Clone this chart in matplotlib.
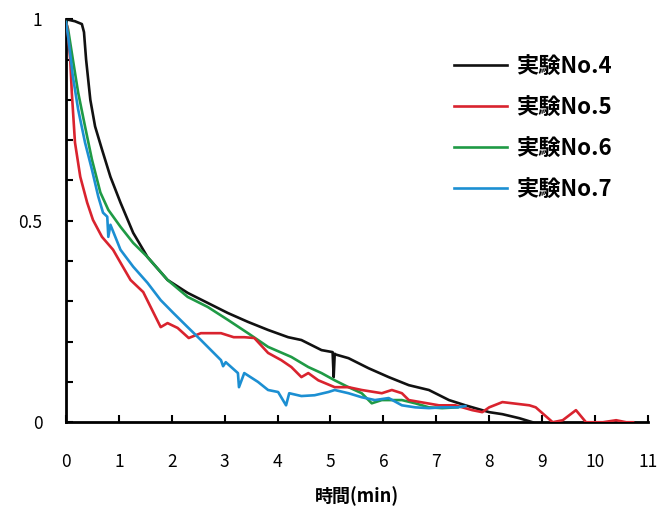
import numpy as np
from matplotlib import pyplot as plt

plt.rcParams['font.family'] = ['Noto Sans CJK JP', 'DejaVu Sans']

# 実験No.4
t4 = [0, 0.17, 0.30, 0.34, 0.38, 0.46, 0.55, 0.68, 0.84, 1.03, 1.27, 1.54, 1.92, 2.30, 2.68,
      3.06, 3.44, 3.82, 4.20, 4.45, 4.83, 5.04, 5.06, 5.08, 5.10, 5.34, 5.72, 6.10, 6.48, 6.86,
      7.24, 7.55, 8.0, 8.25, 8.57, 8.82]
r4 = [1.0, 0.995, 0.988, 0.968, 0.90, 0.80, 0.734, 0.677, 0.609, 0.545, 0.47, 0.41, 0.353, 0.321, 0.296,
      0.271, 0.249, 0.229, 0.211, 0.204, 0.179, 0.174, 0.112, 0.17, 0.168, 0.159, 0.134, 0.112, 0.092, 0.080,
      0.055, 0.042, 0.025, 0.02, 0.01, 0.0]

# 実験No.5
t5 = [0, 0.02, 0.04, 0.08, 0.11, 0.17, 0.27, 0.40, 0.51, 0.68, 0.89, 1.03, 1.22, 1.46, 1.60,
      1.79, 1.92, 2.11, 2.32, 2.55, 2.93, 3.17, 3.37, 3.56, 3.82, 4.07, 4.26, 4.45, 4.58, 4.77,
      5.08, 5.34, 5.59, 5.97, 6.16, 6.35, 6.48, 7.05, 7.36, 7.68, 7.87, 8.0, 8.25, 8.76, 8.88,
      9.20, 9.39, 9.64, 9.83, 10.15, 10.40, 10.59, 10.72]
r5 = [0.99, 0.983, 0.958, 0.90, 0.818, 0.694, 0.609, 0.545, 0.502, 0.46, 0.428, 0.396, 0.353, 0.323, 0.286,
      0.236, 0.246, 0.234, 0.209, 0.221, 0.221, 0.211, 0.211, 0.209, 0.172, 0.154, 0.137, 0.112, 0.122, 0.104,
      0.087, 0.087, 0.080, 0.072, 0.080, 0.072, 0.055, 0.042, 0.042, 0.030, 0.025, 0.037, 0.05, 0.042, 0.037,
      0.0, 0.005, 0.03, 0.0, 0.0, 0.005, 0.0, 0.0]

# 実験No.6
t6 = [0, 0.04, 0.13, 0.23, 0.36, 0.49, 0.65, 0.80, 1.03, 1.27, 1.54, 1.92, 2.30, 2.68, 3.06,
      3.44, 3.82, 4.26, 4.58, 4.83, 5.08, 5.34, 5.59, 5.78, 5.97, 6.35, 6.60, 6.86, 7.11, 7.40]
r6 = [0.993, 0.975, 0.90, 0.818, 0.734, 0.652, 0.57, 0.527, 0.485, 0.445, 0.41, 0.353, 0.311, 0.286, 0.254,
      0.221, 0.187, 0.162, 0.137, 0.122, 0.104, 0.087, 0.072, 0.047, 0.055, 0.055, 0.047, 0.037, 0.035, 0.037]

# 実験No.7
t7 = [0, 0.04, 0.13, 0.23, 0.36, 0.49, 0.61, 0.70, 0.78, 0.80, 0.84, 1.03, 1.27, 1.54, 1.79,
      2.03, 2.30, 2.55, 2.74, 2.93, 2.97, 3.02, 3.25, 3.27, 3.37, 3.63, 3.82, 4.01, 4.16, 4.22,
      4.45, 4.70, 4.96, 5.08, 5.34, 5.59, 5.84, 6.10, 6.35, 6.60, 6.86, 7.11, 7.40, 7.55]
r7 = [0.993, 0.958, 0.858, 0.776, 0.694, 0.627, 0.56, 0.52, 0.51, 0.46, 0.49, 0.428, 0.386, 0.346, 0.303,
      0.271, 0.236, 0.204, 0.179, 0.154, 0.139, 0.149, 0.122, 0.087, 0.122, 0.10, 0.08, 0.075, 0.042, 0.072,
      0.065, 0.067, 0.075, 0.08, 0.072, 0.062, 0.055, 0.06, 0.042, 0.037, 0.035, 0.037, 0.037, 0.04]

fig = plt.figure(figsize=(6.7, 5.2), dpi=100)
ax = fig.add_axes([0.0985, 0.188, 0.8685, 0.775])

ax.plot(t4, r4, color="#111111", lw=1.9, label="実験No.4", zorder=3)
ax.plot(t6, r6, color="#1f9a45", lw=1.9, label="実験No.6", zorder=4)
ax.plot(t5, r5, color="#d9232e", lw=1.9, label="実験No.5", zorder=5)
ax.plot(t7, r7, color="#1c8fd2", lw=1.9, label="実験No.7", zorder=6)

ax.set_xlim(0, 11)
ax.set_ylim(0, 1.0)
for s in ["top", "right"]:
    ax.spines[s].set_visible(False)
for s in ["left", "bottom"]:
    ax.spines[s].set_linewidth(2)

ax.set_xticks(range(12))
ax.set_yticks(np.arange(0, 1.01, 0.1))
ax.set_yticklabels(["0", "", "", "", "", "0.5", "", "", "", "", "1"])
ax.tick_params(axis="x", direction="in", length=5, width=1.5, pad=22, labelsize=12.5)
ax.tick_params(axis="y", direction="in", length=5, width=1.5, pad=17, labelsize=12.5)
ax.set_xlabel("時間(min)", fontsize=13, fontweight="bold", labelpad=11)

handles, labels = ax.get_legend_handles_labels()
order = [labels.index(l) for l in ["実験No.4", "実験No.5", "実験No.6", "実験No.7"]]
ax.legend([handles[i] for i in order], [labels[i] for i in order],
          loc="upper left", bbox_to_anchor=(443 / 670, 1 - 44 / 520),
          bbox_transform=fig.transFigure, frameon=False,
          handlelength=2.4, handletextpad=0.4, labelspacing=0.8,
          borderpad=0, prop={"weight": "bold", "size": 16})

plt.savefig("out.png", dpi=100)
